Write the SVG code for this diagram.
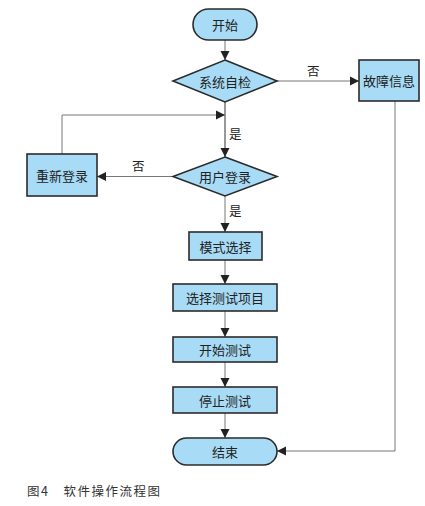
<svg xmlns="http://www.w3.org/2000/svg" width="425" height="506" viewBox="0 0 425 506">
<style>
.n{fill:#a8dcf6;stroke:#2b2b2b;stroke-width:1.6}
.t{font-family:"Noto Sans CJK SC","Liberation Sans",sans-serif;font-size:13px;fill:#222;text-anchor:middle;dominant-baseline:central}
.l{font-family:"Noto Sans CJK SC","Liberation Sans",sans-serif;font-size:12.5px;fill:#222}
.c{fill:none;stroke:#777;stroke-width:1}
</style>
<defs>
<marker id="a" markerWidth="10" markerHeight="10" refX="9" refY="5" orient="auto" markerUnits="userSpaceOnUse">
<path d="M0,0.5 L9,5 L0,9.5 Z" fill="#222"/>
</marker>
</defs>
<rect width="425" height="506" fill="#fff"/>
<g id="connectors">
<path class="c" d="M225,40 V60" marker-end="url(#a)"/>
<path class="c" d="M277,81 H359" marker-end="url(#a)"/>
<path class="c" d="M225,102 V157" marker-end="url(#a)" style="stroke:#333"/>
<path class="c" d="M62,154 V115 H225" marker-end="url(#a)"/>
<path class="c" d="M173,176.5 H97" marker-end="url(#a)"/>
<path class="c" d="M225,196 V232" marker-end="url(#a)"/>
<path class="c" d="M225,260 V284" marker-end="url(#a)"/>
<path class="c" d="M225,311 V337" marker-end="url(#a)"/>
<path class="c" d="M225,362 V387" marker-end="url(#a)"/>
<path class="c" d="M225,413 V438" marker-end="url(#a)"/>
<path class="c" d="M395,101 V451 H277" marker-end="url(#a)"/>
<text class="l" x="307" y="76">否</text>
<text class="l" x="229" y="139">是</text>
<text class="l" x="132" y="171">否</text>
<text class="l" x="229" y="216">是</text>
</g>
<g id="start"><rect class="n" x="193" y="9" width="64" height="31" rx="15.5"/><text class="t" x="225" y="24.5">开始</text></g>
<g id="selfcheck"><polygon class="n" points="225,60 277,81 225,102 173,81"/><text class="t" x="225" y="81">系统自检</text></g>
<g id="fault"><rect class="n" x="359" y="60" width="60" height="41"/><text class="t" x="389" y="80.5">故障信息</text></g>
<g id="relogin"><rect class="n" x="27" y="154" width="70" height="42"/><text class="t" x="62" y="175">重新登录</text></g>
<g id="login"><polygon class="n" points="225,157 277,176.5 225,196 173,176.5"/><text class="t" x="225" y="176.5">用户登录</text></g>
<g id="mode"><rect class="n" x="189" y="232" width="73" height="28"/><text class="t" x="225.5" y="246">模式选择</text></g>
<g id="select"><rect class="n" x="173" y="284" width="104" height="27"/><text class="t" x="225" y="297.5">选择测试项目</text></g>
<g id="begin"><rect class="n" x="173" y="337" width="104" height="25"/><text class="t" x="225" y="349.5">开始测试</text></g>
<g id="stop"><rect class="n" x="173" y="387" width="104" height="26"/><text class="t" x="225" y="400">停止测试</text></g>
<g id="end"><rect class="n" x="173" y="438" width="104" height="27" rx="13.5"/><text class="t" x="225" y="451.5">结束</text></g>
<text x="27" y="496" style="font-family:'Noto Sans CJK SC','Liberation Serif',serif;font-size:12.5px;fill:#333;letter-spacing:1.5px">图4　软件操作流程图</text>
</svg>
